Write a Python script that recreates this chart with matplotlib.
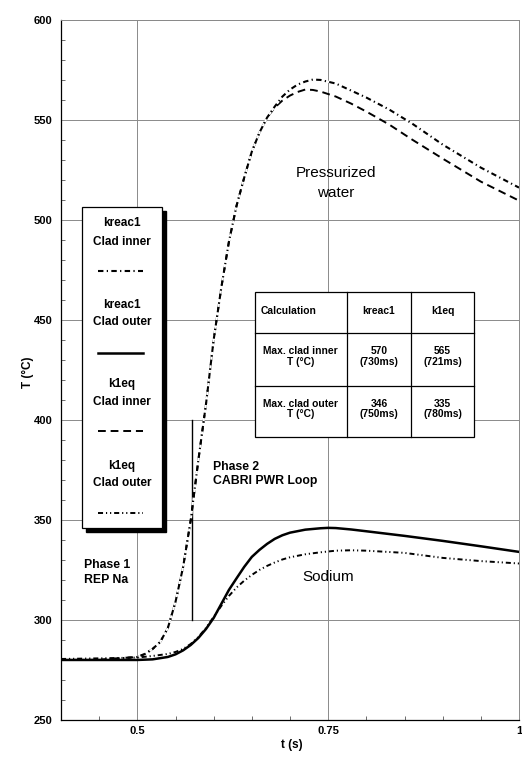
import matplotlib
matplotlib.use("Agg")
import matplotlib.pyplot as plt
from matplotlib.patches import Rectangle
from matplotlib.lines import Line2D
from matplotlib.ticker import MultipleLocator, FixedLocator

plt.rcParams['font.family'] = ['Liberation Sans', 'DejaVu Sans']

# ---------------- data ----------------
t_kreac1_inner = [0.40, 0.45, 0.50, 0.51, 0.52, 0.53, 0.54, 0.55, 0.56, 0.57, 0.58, 0.59,
                  0.60, 0.61, 0.62, 0.63, 0.64, 0.65, 0.66, 0.67, 0.68, 0.69, 0.70, 0.71,
                  0.72, 0.73, 0.74, 0.76, 0.78, 0.80, 0.83, 0.86, 0.90, 0.95, 1.00]
T_kreac1_inner = [280, 280, 281.5, 283, 285.5, 289, 296, 309, 326.5, 350, 380, 408,
                  440, 466, 489, 507, 521, 534, 543.5, 551, 556.5, 561.5, 565, 567.5,
                  569, 570, 569.8, 568, 564.5, 561, 555, 548, 537.5, 526, 516]

t_k1eq_inner = [0.40, 0.45, 0.50, 0.51, 0.52, 0.53, 0.54, 0.55, 0.56, 0.57, 0.58, 0.59,
                0.60, 0.61, 0.62, 0.63, 0.64, 0.65, 0.66, 0.67, 0.68, 0.69, 0.70, 0.71,
                0.72, 0.73, 0.74, 0.76, 0.78, 0.80, 0.83, 0.86, 0.90, 0.95, 1.00]
T_k1eq_inner = [280, 280, 281.5, 283, 285.5, 289, 296, 309, 326.5, 350, 380, 408,
                440, 466, 489, 507, 521, 534, 543.5, 551, 556, 559.5, 562, 563.8,
                565, 564.8, 564, 561.5, 558, 554, 547.5, 540, 530.5, 519, 509.5]

t_kreac1_outer = [0.40, 0.45, 0.50, 0.52, 0.54, 0.55, 0.56, 0.57, 0.58, 0.59, 0.60, 0.61,
                  0.62, 0.63, 0.64, 0.65, 0.66, 0.67, 0.68, 0.69, 0.70, 0.72, 0.74, 0.75,
                  0.76, 0.78, 0.80, 0.85, 0.90, 0.95, 1.00]
T_kreac1_outer = [280, 280, 280, 280.3, 281.5, 282.8, 284.8, 287.5, 291, 295.5, 301, 308,
                  315, 320.8, 326.5, 331.5, 335, 338, 340.5, 342.3, 343.6, 345.1, 345.8, 346,
                  345.9, 345.2, 344.3, 342, 339.5, 336.8, 334]

t_k1eq_outer = [0.40, 0.45, 0.50, 0.52, 0.54, 0.55, 0.56, 0.57, 0.58, 0.59, 0.60, 0.61,
                0.62, 0.63, 0.64, 0.65, 0.66, 0.67, 0.68, 0.69, 0.70, 0.72, 0.74, 0.76,
                0.78, 0.80, 0.85, 0.90, 0.95, 1.00]
T_k1eq_outer = [280.5, 280.8, 281.2, 282, 283, 284, 285.5, 288, 291.5, 296, 301.5, 307,
                312, 316.2, 319.6, 322.5, 325, 327, 328.7, 330.2, 331.3, 332.8, 333.8, 334.6,
                334.8, 334.6, 333.5, 331, 329.4, 328.2]

phase_line_t = 0.571
phase_line_T = [300, 400]

legend_titles = ["kreac1", "kreac1", "k1eq", "k1eq"]
legend_subs = ["Clad inner", "Clad outer", "Clad inner", "Clad outer"]

table_header = ["Calculation", "kreac1", "k1eq"]
table_rows = [["Max. clad inner\nT (°C)", "570\n(730ms)", "565\n(721ms)"],
              ["Max. clad outer\nT (°C)", "346\n(750ms)", "335\n(780ms)"]]

x_ticks = [0.5, 0.75, 1.0]
x_ticklabels = ["0.5", "0.75", "1"]
y_ticks = [250, 300, 350, 400, 450, 500, 550, 600]

# ---------------- styles ----------------
st_kreac1_inner = dict(color='black', lw=1.5, ls=(0, (2.6, 1.6, 0.6, 1.6)))
st_kreac1_outer = dict(color='black', lw=1.8, ls='-')
st_k1eq_inner = dict(color='black', lw=1.4, ls=(0, (4, 2.5)))
st_k1eq_outer = dict(color='black', lw=1.4, ls=(0, (2.6, 1.5, 0.6, 1.5, 0.6, 1.5)))
styles = [st_kreac1_inner, st_kreac1_outer, st_k1eq_inner, st_k1eq_outer]

W, H = 522, 759
fig = plt.figure(figsize=(W / 100, H / 100), dpi=100)
ax = fig.add_axes([61 / W, 1 - 720 / H, 458 / W, (720 - 19.5) / H])


def fx(px):
    return px / W


def fy(py):
    return 1 - py / H


ax.set_xlim(0.4, 1.0)
ax.set_ylim(250, 600)

ax.plot(t_k1eq_inner, T_k1eq_inner, **st_k1eq_inner, zorder=3)
ax.plot(t_kreac1_inner, T_kreac1_inner, **st_kreac1_inner, gapcolor='white', zorder=3.5)
ax.plot(t_k1eq_outer, T_k1eq_outer, **st_k1eq_outer, zorder=3.6)
ax.plot(t_kreac1_outer, T_kreac1_outer, **st_kreac1_outer, zorder=4)
ax.plot([phase_line_t, phase_line_t], phase_line_T, color='black', lw=1.0, zorder=3)

# grid and ticks
ax.xaxis.set_major_locator(FixedLocator(x_ticks))
ax.set_xticklabels(x_ticklabels)
ax.yaxis.set_major_locator(FixedLocator(y_ticks))
ax.xaxis.set_minor_locator(MultipleLocator(0.05))
ax.yaxis.set_minor_locator(MultipleLocator(10))
ax.grid(True, which='major', color='#8a8a8a', lw=0.7, zorder=0)
ax.set_axisbelow(True)
ax.tick_params(which='major', length=0, pad=6, labelsize=8)
ax.tick_params(axis='x', which='major', pad=4)
ax.tick_params(which='minor', direction='in', length=3, width=0.6, color='#555555')
for lab in ax.get_xticklabels() + ax.get_yticklabels():
    lab.set_fontweight('bold')
for s in ['left', 'bottom']:
    ax.spines[s].set_linewidth(0.9)
for s in ['top', 'right']:
    ax.spines[s].set_linewidth(0.7)
    ax.spines[s].set_color('#8a8a8a')

fig.text(fx(292), fy(745), "t (s)", ha='center', va='center', fontsize=8.5, fontweight='bold')
fig.text(fx(28), fy(372), "T (°C)", ha='center', va='center', fontsize=8.5,
         fontweight='bold', rotation=90)

# annotations
fig.text(fx(336), fy(173), "Pressurized", ha='center', va='center', fontsize=11)
fig.text(fx(336), fy(193), "water", ha='center', va='center', fontsize=11)
fig.text(fx(328), fy(577), "Sodium", ha='center', va='center', fontsize=11)
fig.text(fx(213), fy(467), "Phase 2", ha='left', va='center', fontsize=8.8, fontweight='bold')
fig.text(fx(213), fy(481), "CABRI PWR Loop", ha='left', va='center', fontsize=8.8, fontweight='bold')
fig.text(fx(84), fy(565), "Phase 1", ha='left', va='center', fontsize=8.8, fontweight='bold')
fig.text(fx(84), fy(580), "REP Na", ha='left', va='center', fontsize=8.8, fontweight='bold')

# legend box with shadow
lx0, lx1, ly0, ly1 = 82.3, 162.3, 207.3, 528.3
fig.add_artist(Rectangle((fx(lx0 + 3.5), fy(ly1 + 3.5)), (lx1 - lx0) / W, (ly1 - ly0) / H,
                         transform=fig.transFigure, facecolor='black', edgecolor='black', zorder=5))
fig.add_artist(Rectangle((fx(lx0), fy(ly1)), (lx1 - lx0) / W, (ly1 - ly0) / H,
                         transform=fig.transFigure, facecolor='white', edgecolor='black',
                         lw=0.9, zorder=6))
title_y = [223.3, 305, 384.3, 465.7]
sub_y = [241.7, 321.7, 401.7, 483.3]
samp_y = [271, 352.7, 431, 513.3]
for i in range(4):
    fig.text(fx(122), fy(title_y[i]), legend_titles[i], ha='center', va='center',
             fontsize=8.5, fontweight='bold', zorder=7)
    fig.text(fx(122), fy(sub_y[i]), legend_subs[i], ha='center', va='center',
             fontsize=8.5, fontweight='bold', zorder=7)
    st = styles[i]
    fig.add_artist(Line2D([fx(98), fx(143)], [fy(samp_y[i]), fy(samp_y[i])],
                          transform=fig.transFigure, color=st['color'], lw=st['lw'],
                          ls=st['ls'], zorder=7))

# table
tx = [255, 347, 411, 474]
ty = [292, 333, 386, 437]
fig.add_artist(Rectangle((fx(tx[0]), fy(ty[-1])), (tx[-1] - tx[0]) / W, (ty[-1] - ty[0]) / H,
                         transform=fig.transFigure, facecolor='white', edgecolor='black',
                         lw=0.9, zorder=5))
for x in tx[1:-1]:
    fig.add_artist(Line2D([fx(x), fx(x)], [fy(ty[0]), fy(ty[-1])], transform=fig.transFigure,
                          color='black', lw=0.9, zorder=6))
for y in ty[1:-1]:
    fig.add_artist(Line2D([fx(tx[0]), fx(tx[-1])], [fy(y), fy(y)], transform=fig.transFigure,
                          color='black', lw=0.9, zorder=6))
col_c = [300.5, 379, 442.5]
fig.text(fx(261), fy(311), table_header[0], ha='left', va='center', fontsize=7.4,
         fontweight='bold', zorder=7)
for j in (1, 2):
    fig.text(fx(col_c[j]), fy(311), table_header[j], ha='center', va='center', fontsize=7.4,
             fontweight='bold', zorder=7)
row_c = [356.5, 409]
for r, row in enumerate(table_rows):
    for j, cell in enumerate(row):
        fig.text(fx(col_c[j]), fy(row_c[r]), cell, ha='center', va='center', fontsize=7.4,
                 fontweight='bold', linespacing=1.1, zorder=7)

fig.savefig("out.png", dpi=100)
